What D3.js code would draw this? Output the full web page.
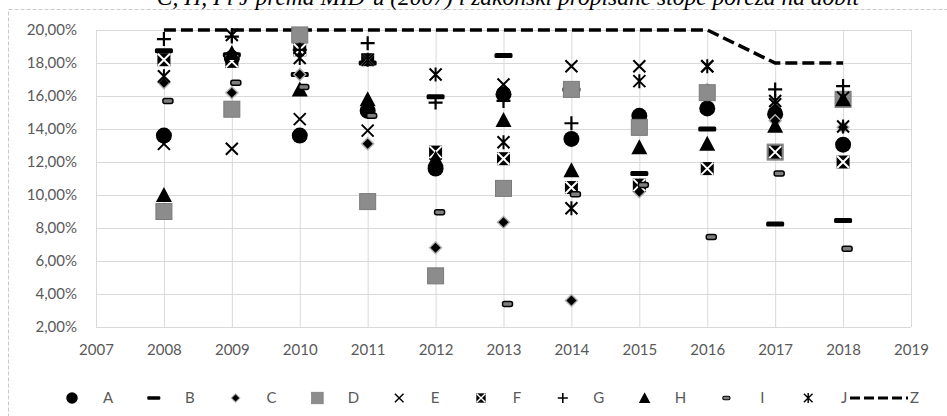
<!DOCTYPE html>
<html>
<head>
<meta charset="utf-8">
<script src="https://cdn.jsdelivr.net/npm/d3@7"></script>
<style>
  body { margin: 0; background: #fff; }
  svg text { font-family: Lato, 'Open Sans', sans-serif; }
</style>
</head>
<body>
<svg id="chart" width="947" height="416"></svg>
<script>
const years = [2008, 2009, 2010, 2011, 2012, 2013, 2014, 2015, 2016, 2017, 2018];
const xTicks = [2007, 2008, 2009, 2010, 2011, 2012, 2013, 2014, 2015, 2016, 2017, 2018, 2019];
const yTicks = [2, 4, 6, 8, 10, 12, 14, 16, 18, 20];

const seriesA = [13.6, 18.3, 13.6, 15.1, 11.6, 16.1, 13.4, 14.8, 15.25, 14.9, 13.05];
const seriesB = [18.75, 18.5, 17.3, 18.0, 15.95, 18.45, 16.4, 11.3, 14.0, 8.25, 8.45];
const seriesC = [16.8, 16.2, 17.3, 13.1, 6.8, 8.35, 3.6, 10.2, 16.4, 14.5, 14.1];
const seriesD = [9.0, 15.2, 19.7, 9.6, 5.1, 10.4, 16.4, 14.1, 16.2, 12.6, 15.8];
const seriesE = [13.1, 12.8, 14.6, 13.9, 12.5, 16.7, 17.8, 17.8, 17.8, 15.5, 15.9];
const seriesF = [18.2, 18.1, 18.8, 18.2, 12.6, 12.2, 10.45, 10.6, 11.6, 12.6, 12.0];
const seriesG = [19.45, 19.6, 18.8, 19.2, 15.6, 15.7, 14.35, null, null, 16.4, 16.6];
const seriesH = [10.0, 18.6, 16.4, 15.8, 12.2, 14.55, 11.5, 12.9, 13.1, 14.2, 15.8];
const seriesI = [15.7, 16.8, 16.55, 14.8, 8.95, 3.4, 10.05, 10.6, 7.45, 11.3, 6.75];
const seriesJ = [17.2, 19.7, 18.3, 18.2, 17.3, 13.2, 9.2, 16.9, 17.8, 15.7, 14.15];
const seriesZ = [20, 20, 20, 20, 20, 20, 20, 20, 20, 18, 18];

const title = 'C, H, I i J prema MID-u (2007) i zakonski propisane stope poreza na dobit';

const series = [
  { name: 'A', values: seriesA, shape: 'circle' },
  { name: 'B', values: seriesB, shape: 'bar' },
  { name: 'C', values: seriesC, shape: 'diamond' },
  { name: 'D', values: seriesD, shape: 'square' },
  { name: 'E', values: seriesE, shape: 'cross' },
  { name: 'F', values: seriesF, shape: 'xbox' },
  { name: 'G', values: seriesG, shape: 'plus' },
  { name: 'H', values: seriesH, shape: 'triangle' },
  { name: 'I', values: seriesI, shape: 'smallbar', dx: 4 },
  { name: 'J', values: seriesJ, shape: 'star' },
];

const svg = d3.select('#chart');
const margin = { top: 30, right: 36, bottom: 89, left: 96 };
const width = 947 - margin.left - margin.right;
const height = 416 - margin.top - margin.bottom;

// dashed chart frame
svg.append('rect')
  .attr('x', 8.5).attr('y', 9.5)
  .attr('width', 960).attr('height', 420)
  .attr('fill', 'none')
  .attr('stroke', '#c8c8c8')
  .attr('stroke-dasharray', '4,2');

// title sits half outside the top edge, like the source
svg.append('text')
  .attr('x', 508).attr('y', 5)
  .attr('text-anchor', 'middle')
  .style('font-family', "'Liberation Serif', 'DejaVu Serif', serif")
  .style('font-style', 'italic')
  .style('font-size', '23.5px')
  .attr('fill', '#000')
  .text(title);

const x = d3.scaleLinear().domain([2007, 2019]).range([0, width]);
const y = d3.scaleLinear().domain([2, 20]).range([height, 0]);

const locale = d3.formatLocale({ decimal: ',', thousands: '.', grouping: [3], currency: ['', ' kn'] });
const pct = v => locale.format('.2f')(v) + '%';

const g = svg.append('g').attr('transform', `translate(${margin.left},${margin.top})`);

const yAxis = g.append('g')
  .call(d3.axisLeft(y).tickValues(yTicks).tickSize(-width).tickPadding(19).tickFormat(pct));
const xAxis = g.append('g')
  .attr('transform', `translate(0,${height})`)
  .call(d3.axisBottom(x).tickValues(xTicks).tickSize(-height).tickPadding(17).tickFormat(d3.format('d')));

[yAxis, xAxis].forEach(ax => {
  ax.select('.domain').remove();
  ax.selectAll('line').attr('stroke', '#d9d9d9').attr('stroke-width', 1);
  ax.selectAll('text').attr('fill', '#595959').style('font-size', '15px');
});

// marker drawing
function drawMarker(sel, shape) {
  if (shape === 'circle') {
    sel.append('circle').attr('r', 8).attr('fill', '#000');
  } else if (shape === 'bar') {
    sel.append('rect').attr('x', -9).attr('y', -2.5).attr('width', 18).attr('height', 5).attr('rx', 1.5).attr('fill', '#000');
  } else if (shape === 'diamond') {
    sel.append('path').attr('d', 'M0,-7L7,0L0,7L-7,0Z').attr('fill', '#b0b0b0');
    sel.append('path').attr('d', 'M0,-5L5,0L0,5L-5,0Z').attr('fill', '#000');
  } else if (shape === 'square') {
    sel.append('rect').attr('x', -8).attr('y', -8).attr('width', 16).attr('height', 16)
      .attr('fill', '#8c8c8c').attr('stroke', '#7a7a7a').attr('stroke-width', 1);
  } else if (shape === 'cross') {
    sel.append('path').attr('d', 'M-6,-6L6,6M6,-6L-6,6').attr('stroke', '#000').attr('stroke-width', 2).attr('fill', 'none');
  } else if (shape === 'xbox') {
    sel.append('rect').attr('x', -6.5).attr('y', -6.5).attr('width', 13).attr('height', 13).attr('fill', '#000');
    sel.append('path').attr('d', 'M-6,-6L6,6M6,-6L-6,6').attr('stroke', '#fff').attr('stroke-width', 2).attr('fill', 'none');
  } else if (shape === 'plus') {
    sel.append('path').attr('d', 'M-7,0H7M0,-7V7').attr('stroke', '#000').attr('stroke-width', 2.2).attr('fill', 'none');
  } else if (shape === 'triangle') {
    sel.append('path').attr('d', 'M0,-8L8,7L-8,7Z').attr('fill', '#000');
  } else if (shape === 'smallbar') {
    sel.append('rect').attr('x', -5).attr('y', -2.5).attr('width', 10).attr('height', 5).attr('rx', 2)
      .attr('fill', '#7f7f7f').attr('stroke', '#000').attr('stroke-width', 1.5);
  } else if (shape === 'star') {
    sel.append('path').attr('d', 'M-6,-6L6,6M6,-6L-6,6M0,-7V7').attr('stroke', '#000').attr('stroke-width', 2).attr('fill', 'none');
  }
}

// Z line (statutory rate)
const line = d3.line()
  .defined(d => d[1] != null)
  .x(d => x(d[0]))
  .y(d => y(d[1]));

g.append('path')
  .datum(years.map((yr, i) => [yr, seriesZ[i]]))
  .attr('d', line)
  .attr('fill', 'none')
  .attr('stroke', '#000')
  .attr('stroke-width', 3.5)
  .attr('stroke-dasharray', '12,5');

series.forEach(s => {
  const pts = years.map((yr, i) => ({ yr, v: s.values[i] })).filter(d => d.v != null);
  g.append('g').attr('class', 'series-' + s.name)
    .selectAll('g')
    .data(pts)
    .enter().append('g')
    .attr('transform', d => `translate(${x(d.yr) + (s.dx || 0)},${y(d.v)})`)
    .each(function () { drawMarker(d3.select(this), s.shape); });
});

// legend (markers a bit smaller than in the plot)
const legendY = 398;
const legend = svg.append('g');
series.forEach((s, i) => {
  const lx = 72 + i * 81.8;
  const item = legend.append('g').attr('transform', `translate(${lx},${legendY})`);
  drawMarker(item.append('g').attr('transform', 'scale(0.72)'), s.shape);
  item.append('text')
    .attr('x', 36).attr('y', 0).attr('dy', '0.35em')
    .attr('text-anchor', 'middle')
    .attr('fill', '#595959')
    .style('font-size', '15px')
    .text(s.name);
});
legend.append('line')
  .attr('x1', 850).attr('x2', 908)
  .attr('y1', legendY).attr('y2', legendY)
  .attr('stroke', '#000').attr('stroke-width', 3)
  .attr('stroke-dasharray', '10,4');
legend.append('text')
  .attr('x', 910).attr('y', legendY).attr('dy', '0.35em')
  .attr('fill', '#595959')
  .style('font-size', '15px')
  .text('Z');
</script>
</body>
</html>
